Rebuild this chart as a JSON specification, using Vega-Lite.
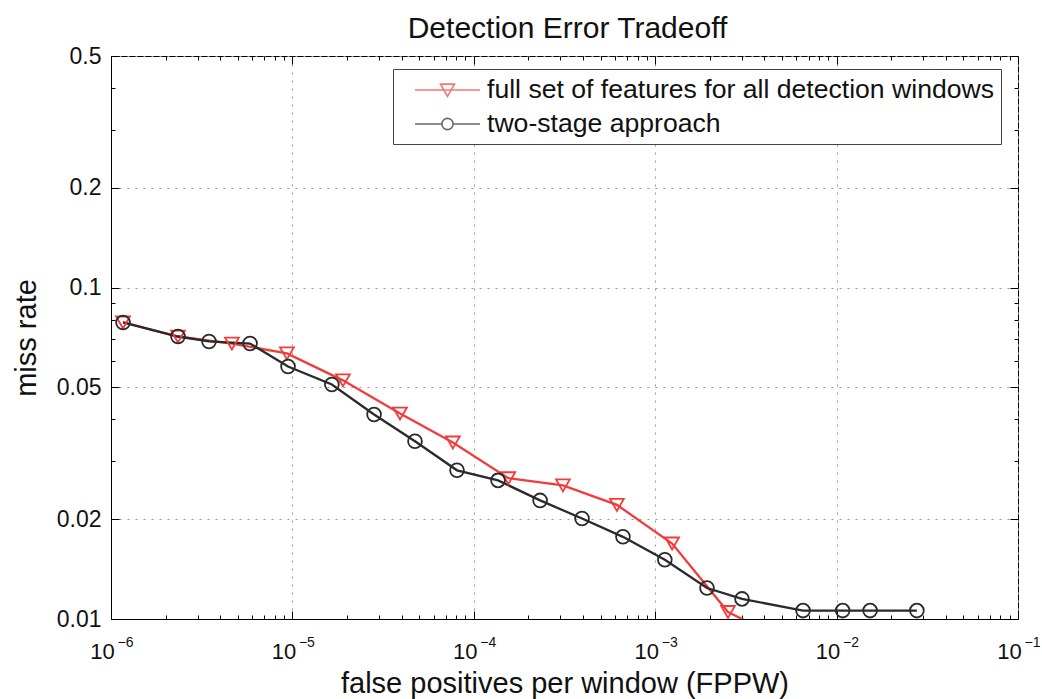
{
  "$schema": "https://vega.github.io/schema/vega-lite/v6.json",
  "width": 907,
  "height": 563,
  "autosize": {"type": "none"},
  "padding": {"left": 111, "top": 56, "right": 24, "bottom": 80},
  "background": "white",
  "title": {"text": "Detection Error Tradeoff", "fontSize": 30, "font": "Liberation Sans", "fontWeight": "normal", "color": "#111", "anchor": "middle", "frame": "group", "baseline": "bottom", "offset": 12, "dy": 41, "dx": 3},
  "config": {"font": "Liberation Sans", "view": {"stroke": "#000", "strokeWidth": 1}},
  "data": {"values": [
    {"series": "full set of features for all detection windows", "fppw": 0.000001165, "miss": 0.0785},
    {"series": "full set of features for all detection windows", "fppw": 0.00000234, "miss": 0.0712},
    {"series": "full set of features for all detection windows", "fppw": 0.00000464, "miss": 0.0678},
    {"series": "full set of features for all detection windows", "fppw": 0.00000933, "miss": 0.0633},
    {"series": "full set of features for all detection windows", "fppw": 0.000019, "miss": 0.0525},
    {"series": "full set of features for all detection windows", "fppw": 0.0000392, "miss": 0.0417},
    {"series": "full set of features for all detection windows", "fppw": 0.0000767, "miss": 0.0341},
    {"series": "full set of features for all detection windows", "fppw": 0.000155, "miss": 0.0266},
    {"series": "full set of features for all detection windows", "fppw": 0.00031, "miss": 0.0253},
    {"series": "full set of features for all detection windows", "fppw": 0.000615, "miss": 0.0221},
    {"series": "full set of features for all detection windows", "fppw": 0.00124, "miss": 0.0169},
    {"series": "full set of features for all detection windows", "fppw": 0.00252, "miss": 0.0105},
    {"series": "full set of features for all detection windows", "fppw": 0.00378, "miss": 0.0094},
    {"series": "two-stage approach", "fppw": 0.000001165, "miss": 0.0785},
    {"series": "two-stage approach", "fppw": 0.00000234, "miss": 0.0712},
    {"series": "two-stage approach", "fppw": 0.00000347, "miss": 0.0688},
    {"series": "two-stage approach", "fppw": 0.00000584, "miss": 0.0678},
    {"series": "two-stage approach", "fppw": 0.00000946, "miss": 0.0578},
    {"series": "two-stage approach", "fppw": 0.0000165, "miss": 0.051},
    {"series": "two-stage approach", "fppw": 0.0000282, "miss": 0.0414},
    {"series": "two-stage approach", "fppw": 0.0000474, "miss": 0.0344},
    {"series": "two-stage approach", "fppw": 0.0000808, "miss": 0.0281},
    {"series": "two-stage approach", "fppw": 0.000136, "miss": 0.0262},
    {"series": "two-stage approach", "fppw": 0.000232, "miss": 0.0228},
    {"series": "two-stage approach", "fppw": 0.000395, "miss": 0.0201},
    {"series": "two-stage approach", "fppw": 0.000664, "miss": 0.0177},
    {"series": "two-stage approach", "fppw": 0.00113, "miss": 0.0151},
    {"series": "two-stage approach", "fppw": 0.00193, "miss": 0.0124},
    {"series": "two-stage approach", "fppw": 0.00301, "miss": 0.0115},
    {"series": "two-stage approach", "fppw": 0.00653, "miss": 0.0106},
    {"series": "two-stage approach", "fppw": 0.0108, "miss": 0.0106},
    {"series": "two-stage approach", "fppw": 0.0153, "miss": 0.0106},
    {"series": "two-stage approach", "fppw": 0.0277, "miss": 0.0106}
  ]},
  "layer": [
    {
      "mark": {"type": "line", "strokeWidth": 2.3, "clip": true},
      "encoding": {
        "x": {"field": "fppw", "type": "quantitative",
          "scale": {"type": "log", "domain": [0.000001, 0.1], "nice": false},
          "axis": {"orient": "bottom", "values": [0.000001, 0.00001, 0.0001, 0.001, 0.01, 0.1],
            "labelExpr": "'10'", "labelFontSize": 22, "labelColor": "#111", "labelOffset": -9, "labelPadding": 30,
            "labelFlush": false, "labelOverlap": false, "tickSize": -8, "tickColor": "#000", "domainColor": "#000",
            "grid": true, "gridDash": [2, 6], "gridColor": "#999",
            "title": "false positives per window (FPPW)", "titleFontSize": 29, "titleFontWeight": "normal", "titleColor": "#111", "titlePadding": 7}},
        "y": {"field": "miss", "type": "quantitative",
          "scale": {"type": "log", "domain": [0.01, 0.5], "nice": false},
          "axis": {"orient": "left", "values": [0.01, 0.02, 0.05, 0.1, 0.2, 0.5], "format": "~g",
            "labelFontSize": 23, "labelColor": "#111", "labelPadding": 18, "labelFlush": false, "labelOverlap": false,
            "tickSize": -8, "tickColor": "#000", "domainColor": "#000",
            "grid": true, "gridDash": [2, 6], "gridColor": "#999",
            "title": "miss rate", "titleFontSize": 29, "titleFontWeight": "normal", "titleColor": "#111", "titlePadding": 15}},
        "color": {"field": "series", "type": "nominal",
          "scale": {"domain": ["full set of features for all detection windows", "two-stage approach"], "range": ["#f23c3c", "#2a2a2a"]},
          "legend": null}
      }
    },
    {
      "mark": {"type": "point", "filled": false, "size": 190, "strokeWidth": 1.8, "clip": true, "opacity": 1},
      "encoding": {
        "x": {"field": "fppw", "type": "quantitative",
          "scale": {"type": "log", "domain": [0.000001, 0.1], "nice": false},
          "axis": {"orient": "top", "values": [0.000001, 0.000002, 0.000003, 0.000004, 0.000005, 0.000006, 0.000007, 0.000008, 0.000009, 0.00001, 0.00002, 0.00003, 0.00004, 0.00005, 0.00006, 0.00007, 0.00008, 0.00009, 0.0001, 0.0002, 0.0003, 0.0004, 0.0005, 0.0006, 0.0007, 0.0008, 0.0009, 0.001, 0.002, 0.003, 0.004, 0.005, 0.006, 0.007, 0.008, 0.009, 0.01, 0.02, 0.03, 0.04, 0.05, 0.06, 0.07, 0.08, 0.09, 0.1],
            "labels": false, "grid": false, "domain": false, "title": null, "tickColor": "#000",
            "tickSize": {"condition": {"test": "abs(log(datum.value)/LN10 - round(log(datum.value)/LN10)) < 0.001", "value": -8}, "value": -4}}},
        "y": {"field": "miss", "type": "quantitative",
          "scale": {"type": "log", "domain": [0.01, 0.5], "nice": false},
          "axis": {"orient": "right", "values": [0.01, 0.02, 0.03, 0.04, 0.05, 0.06, 0.07, 0.08, 0.09, 0.1, 0.2, 0.3, 0.4, 0.5],
            "labels": false, "grid": false, "domain": false, "title": null, "tickColor": "#000",
            "tickSize": {"condition": {"test": "indexof([0.01, 0.02, 0.05, 0.1, 0.2, 0.5], datum.value) >= 0", "value": -8}, "value": -4}}},
        "color": {"field": "series", "type": "nominal",
          "scale": {"domain": ["full set of features for all detection windows", "two-stage approach"], "range": ["#f23c3c", "#2a2a2a"]},
          "legend": null},
        "shape": {"field": "series", "type": "nominal",
          "scale": {"domain": ["full set of features for all detection windows", "two-stage approach"], "range": ["triangle-down", "circle"]},
          "legend": null}
      }
    },
    {
      "transform": [{"filter": "false"}],
      "mark": {"type": "point", "filled": false, "strokeWidth": 1.6},
      "encoding": {
        "x": {"field": "fppw", "type": "quantitative",
          "scale": {"type": "log", "domain": [0.000001, 0.1], "nice": false},
          "axis": {"orient": "bottom", "values": [0.000001, 0.000002, 0.000003, 0.000004, 0.000005, 0.000006, 0.000007, 0.000008, 0.000009, 0.00001, 0.00002, 0.00003, 0.00004, 0.00005, 0.00006, 0.00007, 0.00008, 0.00009, 0.0001, 0.0002, 0.0003, 0.0004, 0.0005, 0.0006, 0.0007, 0.0008, 0.0009, 0.001, 0.002, 0.003, 0.004, 0.005, 0.006, 0.007, 0.008, 0.009, 0.01, 0.02, 0.03, 0.04, 0.05, 0.06, 0.07, 0.08, 0.09, 0.1],
            "labelExpr": "abs(log(datum.value)/LN10 - round(log(datum.value)/LN10)) < 0.001 ? '−' + abs(round(log(datum.value)/LN10)) : ''",
            "labelFontSize": 14, "labelColor": "#111", "labelAlign": "left", "labelBaseline": "top", "labelOffset": 6, "labelPadding": 20,
            "labelFlush": false, "labelOverlap": false, "tickSize": -4, "tickColor": "#000",
            "tickOpacity": {"condition": {"test": "abs(log(datum.value)/LN10 - round(log(datum.value)/LN10)) < 0.001", "value": 0}, "value": 1},
            "domain": false, "grid": false, "title": null}},
        "y": {"field": "miss", "type": "quantitative",
          "scale": {"type": "log", "domain": [0.01, 0.5], "nice": false},
          "axis": {"orient": "left", "values": [0.03, 0.04, 0.06, 0.07, 0.08, 0.09, 0.3, 0.4],
            "labels": false, "grid": false, "domain": false, "title": null, "tickSize": -4, "tickColor": "#000"}},
        "color": {"field": "series", "type": "nominal",
          "scale": {"domain": ["full set of features for all detection windows", "two-stage approach"], "range": ["#f23c3c", "#2a2a2a"]},
          "legend": {"orient": "none", "legendX": 282, "legendY": 13, "title": null, "labelFontSize": 26.6, "labelColor": "#111", "labelLimit": 0,
            "symbolSize": 784, "symbolStrokeWidth": 1.6, "symbolOffset": 15, "labelOffset": 43, "padding": 6, "rowPadding": 5,
            "strokeColor": "#444", "fillColor": "#ffffff"}},
        "shape": {"field": "series", "type": "nominal",
          "scale": {"domain": ["full set of features for all detection windows", "two-stage approach"],
            "range": ["M-1,0H3.64M0.82,-0.42H1.82L1.32,0.45Z", "M-1,0H0.92M1.72,0H3.64M1.72,0A0.4,0.4 0 1,1 0.92,0A0.4,0.4 0 1,1 1.72,0Z"]},
          "legend": {"orient": "none", "legendX": 282, "legendY": 13, "title": null, "labelFontSize": 26.6, "labelColor": "#111", "labelLimit": 0,
            "symbolSize": 784, "symbolStrokeWidth": 1.6, "symbolOffset": 15, "labelOffset": 43, "padding": 6, "rowPadding": 5,
            "strokeColor": "#444", "fillColor": "#ffffff"}}
      }
    }
  ],
  "resolve": {
    "scale": {"color": "independent", "shape": "independent"},
    "legend": {"color": "independent", "shape": "independent"},
    "axis": {"x": "independent", "y": "independent"}
  }
}
